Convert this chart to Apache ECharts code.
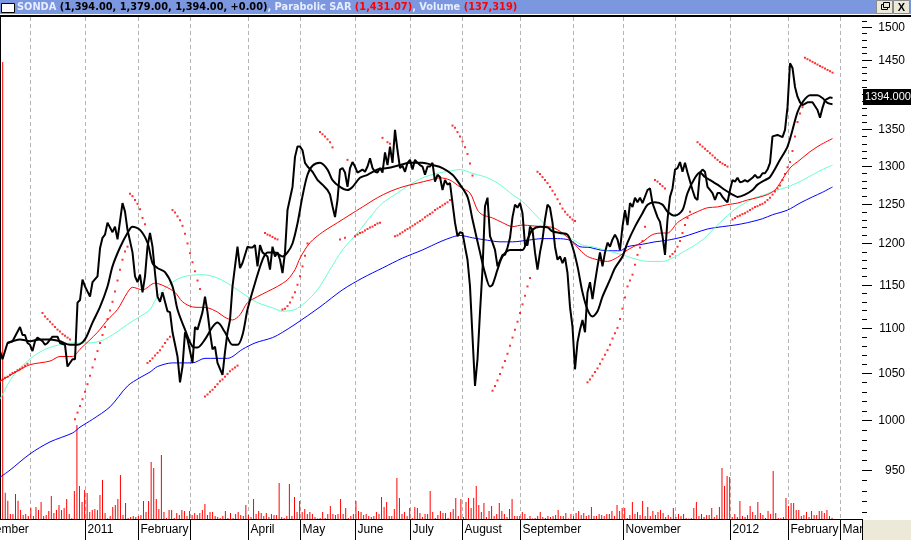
<!DOCTYPE html>
<html><head><meta charset="utf-8">
<script src="https://cdn.jsdelivr.net/npm/echarts@6/dist/echarts.min.js"></script>
<style>html,body{margin:0;padding:0;background:#fff;overflow:hidden}#c{width:911px;height:540px}</style>
</head><body><div id="c"></div>
<script>
// ---- data (x = trading-day position, y = price) ----
const price = [[0,1074],[1,1065],[3,1083],[5,1085],[8,1101],[9,1092],[10,1092],[11,1083],[12,1081],[13,1074],[14,1085],[15,1089],[17,1085],[18,1081],[19,1083],[21,1090],[23,1090],[24,1083],[26,1081],[27,1057],[29,1065],[30,1065],[31,1129],[32,1132],[33,1156],[34,1148],[36,1136],[37,1153],[39,1160],[40,1194],[41,1207],[42,1211],[43,1226],[45,1214],[46,1221],[47,1205],[49,1251],[50,1240],[51,1217],[53,1189],[54,1160],[55,1153],[56,1162],[57,1141],[58,1160],[59,1196],[60,1213],[61,1196],[62,1164],[63,1136],[64,1130],[65,1141],[67,1119],[68,1118],[69,1095],[71,1068],[72,1040],[73,1057],[74,1095],[75,1087],[77,1061],[78,1101],[79,1098],[81,1118],[82,1136],[83,1118],[84,1095],[85,1076],[86,1079],[87,1061],[89,1048],[90,1073],[91,1095],[92,1109],[93,1148],[95,1196],[96,1170],[97,1176],[99,1196],[100,1195],[101,1195],[102,1198],[103,1172],[104,1198],[105,1189],[107,1184],[108,1168],[109,1196],[110,1184],[111,1189],[112,1180],[113,1164],[114,1189],[115,1242],[117,1272],[118,1312],[119,1326],[120,1326],[121,1321],[122,1304],[123,1299],[125,1292],[127,1281],[129,1275],[131,1268],[132,1262],[133,1247],[134,1233],[135,1255],[136,1295],[137,1297],[138,1291],[139,1272],[140,1297],[141,1305],[142,1299],[143,1291],[145,1295],[146,1292],[147,1299],[148,1310],[149,1297],[150,1292],[151,1291],[152,1297],[153,1291],[154,1318],[155,1301],[156,1326],[157,1304],[158,1349],[159,1321],[160,1297],[161,1300],[162,1292],[163,1304],[164,1308],[165,1295],[166,1308],[167,1304],[168,1301],[169,1299],[170,1288],[171,1299],[172,1299],[173,1304],[174,1279],[175,1288],[176,1285],[177,1268],[178,1281],[179,1275],[180,1277],[181,1251],[182,1226],[183,1209],[184,1214],[185,1213],[186,1196],[187,1180],[188,1148],[189,1090],[190,1036],[191,1065],[192,1118],[193,1168],[194,1247],[195,1258],[196,1209],[197,1201],[198,1192],[199,1172],[201,1186],[202,1186],[203,1195],[204,1207],[205,1233],[206,1249],[207,1245],[208,1251],[209,1238],[210,1198],[211,1198],[212,1221],[213,1217],[214,1189],[215,1168],[216,1189],[217,1205],[218,1230],[219,1249],[220,1245],[221,1226],[222,1196],[223,1180],[224,1184],[225,1176],[226,1183],[227,1164],[228,1124],[229,1101],[230,1054],[231,1084],[232,1098],[233,1109],[234,1095],[235,1141],[236,1153],[237,1133],[238,1153],[239,1172],[240,1189],[241,1172],[242,1189],[243,1201],[244,1196],[245,1205],[246,1211],[247,1205],[248,1192],[249,1221],[250,1242],[251,1223],[252,1251],[253,1246],[254,1258],[255,1252],[256,1258],[257,1251],[259,1268],[260,1270],[261,1251],[262,1242],[263,1233],[264,1227],[265,1209],[266,1186],[267,1230],[268,1259],[269,1270],[270,1295],[271,1297],[272,1305],[273,1292],[274,1304],[275,1291],[277,1268],[278,1258],[279,1255],[280,1291],[281,1295],[282,1292],[283,1272],[284,1268],[285,1264],[286,1255],[287,1264],[288,1264],[289,1259],[290,1255],[291,1252],[292,1268],[293,1281],[294,1279],[295,1284],[296,1278],[297,1279],[298,1281],[299,1279],[301,1284],[302,1288],[303,1284],[304,1285],[305,1290],[306,1290],[307,1295],[308,1304],[309,1340],[311,1342],[313,1339],[314,1349],[315,1381],[316,1445],[317,1438],[318,1410],[319,1396],[320,1388],[321,1384],[323,1388],[325,1388],[327,1377],[328,1366],[329,1380],[330,1391],[332,1395],[333,1394]];

const maShort = [[3,1083],[8,1087],[12,1085],[16,1087],[20,1087],[24,1085],[28,1081],[31,1081],[34,1087],[37,1106],[40,1124],[43,1148],[45,1172],[48,1195],[51,1213],[53,1221],[56,1217],[59,1201],[61,1176],[63,1170],[66,1165],[69,1148],[71,1121],[74,1098],[77,1079],[79,1078],[82,1087],[85,1101],[87,1106],[90,1095],[93,1081],[95,1081],[97,1092],[99,1121],[102,1152],[105,1180],[107,1189],[110,1189],[113,1184],[115,1189],[117,1200],[119,1225],[121,1260],[123,1288],[125,1300],[128,1304],[131,1295],[133,1281],[136,1272],[139,1268],[141,1272],[144,1284],[147,1288],[151,1295],[155,1297],[160,1301],[164,1304],[169,1304],[173,1301],[177,1297],[181,1288],[184,1275],[187,1259],[189,1230],[192,1189],[194,1164],[196,1148],[197,1150],[199,1168],[201,1184],[204,1192],[207,1192],[209,1192],[211,1205],[213,1217],[216,1221],[219,1220],[221,1215],[224,1213],[227,1211],[229,1196],[231,1172],[233,1141],[235,1121],[237,1113],[239,1119],[241,1136],[244,1156],[246,1170],[249,1184],[251,1201],[254,1221],[257,1238],[259,1249],[262,1252],[265,1249],[267,1240],[270,1235],[273,1242],[275,1264],[278,1284],[280,1291],[282,1285],[285,1279],[287,1275],[290,1268],[293,1262],[295,1259],[298,1262],[301,1268],[303,1275],[306,1281],[308,1285],[312,1308],[315,1326],[317,1349],[319,1374],[321,1388],[324,1398],[327,1398],[329,1394],[331,1387],[333,1385]];

const maRed = [[0,1041],[7,1052],[12,1059],[20,1063],[24,1068],[29,1068],[32,1076],[39,1095],[43,1109],[47,1121],[51,1141],[53,1147],[57,1144],[62,1152],[66,1148],[70,1141],[73,1130],[77,1124],[83,1123],[87,1118],[90,1112],[93,1109],[96,1115],[99,1129],[103,1136],[107,1142],[111,1148],[115,1156],[118,1168],[120,1182],[124,1201],[129,1214],[135,1226],[140,1236],[145,1246],[151,1258],[156,1266],[161,1272],[167,1277],[172,1281],[176,1284],[180,1281],[184,1272],[188,1264],[191,1242],[193,1236],[197,1232],[201,1226],[205,1221],[209,1223],[213,1222],[217,1221],[221,1220],[225,1213],[229,1202],[232,1192],[235,1184],[239,1180],[243,1178],[247,1183],[251,1192],[257,1202],[261,1211],[265,1213],[267,1213],[271,1226],[275,1234],[279,1240],[283,1245],[287,1246],[291,1249],[295,1251],[299,1255],[303,1258],[307,1262],[310,1268],[312,1277],[316,1297],[320,1308],[324,1319],[328,1328],[333,1337]];

const maCyan = [[0,1022],[5,1046],[11,1063],[16,1073],[21,1079],[29,1083],[35,1083],[40,1085],[45,1092],[51,1104],[56,1113],[60,1121],[63,1136],[69,1153],[74,1160],[81,1162],[87,1158],[93,1148],[98,1138],[103,1129],[109,1123],[113,1119],[118,1121],[122,1129],[127,1144],[132,1168],[137,1192],[143,1213],[148,1233],[153,1251],[159,1264],[164,1275],[169,1284],[175,1290],[180,1293],[184,1295],[189,1290],[195,1284],[200,1275],[205,1262],[209,1253],[213,1240],[217,1227],[221,1217],[225,1211],[229,1205],[233,1198],[237,1196],[243,1191],[248,1187],[254,1181],[259,1178],[265,1178],[269,1182],[273,1189],[278,1198],[282,1207],[286,1220],[290,1232],[294,1243],[298,1251],[302,1258],[306,1262],[309,1266],[315,1272],[320,1279],[325,1288],[329,1295],[333,1301]];

const maBlue = [[0,943],[4,950],[12,966],[20,978],[29,987],[32,993],[37,1001],[44,1014],[51,1036],[56,1045],[60,1051],[63,1057],[69,1061],[77,1061],[82,1066],[91,1066],[97,1076],[102,1083],[109,1089],[113,1095],[118,1104],[128,1124],[137,1144],[145,1158],[153,1170],[161,1182],[169,1192],[176,1202],[181,1208],[184,1210],[189,1207],[195,1204],[200,1202],[205,1202],[211,1204],[217,1206],[223,1206],[228,1204],[232,1196],[236,1195],[240,1192],[244,1191],[248,1191],[251,1196],[257,1199],[262,1202],[267,1204],[273,1208],[278,1213],[283,1218],[289,1221],[294,1223],[299,1226],[305,1231],[309,1236],[315,1242],[320,1251],[325,1259],[329,1265],[333,1272]];

const sar = [[0,1041],[1,1043],[2,1045],[3,1046],[4,1048],[5,1050],[6,1051],[7,1053],[8,1054],[9,1056],[10,1058],[11,1060],
[17,1117],[18,1113],[19,1110],[20,1107],[21,1104],[22,1101],[23,1098],[24,1096],[25,1093],[26,1091],[27,1089],[28,1087],
[30,1001],[31,1008],[32,1015],[33,1022],[34,1030],[35,1038],[36,1047],[37,1056],[38,1065],[39,1074],[40,1083],[41,1092],[42,1101],[43,1110],[44,1120],[45,1130],[46,1142],[47,1155],[48,1168],[49,1180],[50,1190],[51,1196],
[52,1263],[53,1260],[54,1255],[55,1250],[56,1243],[57,1232],[58,1224],
[59,1061],[60,1063],[61,1066],[62,1069],[63,1072],[64,1075],[65,1079],[66,1083],[67,1087],[68,1090],
[69,1242],[70,1239],[71,1234],[72,1229],[73,1222],[74,1212],[75,1200],[76,1188],[77,1177],[78,1166],[79,1155],[80,1145],
[82,1025],[83,1027],[84,1030],[85,1032],[86,1035],[87,1038],[88,1041],[89,1043],[90,1046],[91,1049],[92,1052],[93,1054],[94,1056],[95,1058],
[106,1213],[107,1211],[108,1210],[109,1208],[110,1206],[111,1205],
[113,1121],[114,1122],[115,1125],[116,1129],[117,1135],[118,1141],[119,1150],[120,1160],[121,1172],[122,1185],[123,1200],
[128,1346],[129,1343],[130,1340],[131,1336],[132,1332],[133,1325],
[136,1205],[138,1207],[139,1308],
[142,1209],[143,1211],[144,1213],[145,1214],[146,1216],[147,1218],[148,1220],[149,1221],[150,1223],[151,1225],[152,1226],
[153,1338],[155,1332],[156,1330],
[158,1209],[159,1210],[160,1212],[161,1214],[162,1216],[163,1218],[164,1220],[165,1222],[166,1224],[167,1226],[168,1228],[169,1230],[170,1233],[171,1235],[172,1237],[173,1239],[174,1242],[175,1244],[176,1246],[177,1248],[178,1250],[179,1252],[180,1255],
[181,1355],[182,1352],[183,1346],[184,1340],[185,1333],[186,1325],[187,1316],[188,1303],[189,1287],
[197,1031],[198,1036],[199,1042],[200,1049],[201,1056],[202,1063],[203,1071],[204,1080],[205,1089],[206,1098],[207,1107],[208,1117],[209,1127],[210,1137],[211,1148],[212,1158],
[215,1292],[216,1289],[217,1285],[218,1281],[219,1277],[220,1272],[221,1267],[222,1262],[223,1256],[224,1250],[225,1244],[226,1240],[227,1236],[228,1233],[229,1230],[230,1228],
[235,1040],[236,1043],[237,1047],[238,1051],[239,1055],[240,1060],[241,1065],[242,1070],[243,1075],[244,1081],[245,1088],[246,1094],[247,1100],[248,1110],[249,1122],[250,1135],[251,1148],[252,1155],[253,1162],[254,1174],[255,1186],[256,1195],[257,1203],[258,1221],
[262,1281],[263,1279],[264,1276],[265,1273],[266,1270],
[268,1184],[269,1187],[270,1190],[271,1196],[272,1203],[273,1213],[274,1223],[275,1232],[276,1240],
[279,1332],[280,1329],[281,1326],[282,1323],[283,1320],[284,1317],[285,1314],[286,1311],[287,1308],[288,1305],[289,1303],[290,1301],[291,1299],
[293,1230],[294,1232],[295,1234],[296,1235],[297,1237],[298,1238],[299,1240],[300,1242],[301,1244],[302,1246],[303,1247],[304,1249],[305,1250],[306,1252],[307,1255],[308,1258],[309,1262],[310,1266],[311,1270],[312,1274],[313,1281],[314,1289],[315,1298],[316,1305],[317,1320],[318,1340],[319,1360],[320,1372],[321,1381],
[322,1453],[323,1451],[324,1449],[325,1447],[326,1445],[327,1443],[328,1441],[329,1439],[330,1437],[331,1435],[332,1433],[333,1431]];

// daily volume, thousands of shares (one bar per trading day)
const volume = [45700,2630,1830,500,500,2500,1830,900,400,500,
300,1100,300,1200,900,1700,300,400,800,2300,
600,900,1400,900,1100,2000,500,70,2800,9400,
3300,1700,2900,2600,700,900,1000,900,2400,3900,
600,70,300,1200,1400,2000,4400,400,1600,100,
200,300,200,300,400,1800,700,1800,5700,5100,
2000,1000,6400,700,100,900,900,100,600,400,
900,800,300,800,400,600,400,600,900,1500,
400,700,700,300,200,100,300,800,100,600,
100,500,700,400,300,1400,400,200,2000,500,
800,600,300,600,200,500,400,400,3600,200,
100,300,3500,
300,2200,700,1800,700,1000,500,700,500,200,50,
100,700,100,500,1300,500,400,500,2000,500,
1100,100,300,500,1800,800,700,400,500,300,
200,300,700,500,2200,1200,1700,300,300,1000,
4100,2100,500,700,300,1100,100,1200,1100,600,
200,500,500,2800,700,100,400,800,600,600,
100,700,1000,2100,300,2000,200,1700,2100,1100,
2100,3300,1400,700,1600,200,800,1300,300,500,
1600,800,500,200,1000,2000,300,300,300,700,
500,50,300,50,100,300,700,200,100,300,
200,300,400,900,300,300,600,50,
500,300,600,800,400,600,300,400,1200,300,
300,500,400,300,500,500,800,300,1400,800,
1100,1100,100,400,1700,500,700,400,1800,300,
1200,300,800,400,700,900,600,200,400,200,
1100,200,500,300,500,100,50,100,1100,1700,300,
500,200,400,400,1100,200,400,1200,5100,3300,
4300,4200,200,500,200,1800,300,200,400,1300,
700,400,1700,600,400,100,800,500,4800,600,
100,100,200,2100,1300,1600,1600,900,900,300,
400,700,200,800,400,400,800,800,600,900,
300,137];

// month grid and labels (x positions in same day units as price)
const gridDays = [12,34,55,76,99,120,142,164,185,208,229,249,270,292,315,336];
const labelDays = [-11.5,34,55,76,99,120,142,164,185,208,249,292,315,336];
const labelTexts = ['November','2011','February','','April','May','June','July','August','September','November','2012','February','Mar'];
const yTickLabels = [950,1000,1050,1100,1150,1200,1250,1300,1350,1400,1450,1500];
const yMinorStep = 10, yTickFrom = 910, yTickTo = 1510;

const headerName = 'SONDA';
const headerQuote = '(1,394.00, 1,379.00, 1,394.00, +0.00)';
const headerSar = '(1,431.07)';
const headerVol = '(137,319)';
const lastClose = 1394;

const FONT = '"Liberation Sans", Arial, sans-serif';
const yTicks = [];
for (let v = yTickFrom; v <= yTickTo; v += yMinorStep) yTicks.push(v);

const chart = echarts.init(document.getElementById('c'), null, {renderer:'canvas'});

function gridLineItem(params, api){
  const cs = params.coordSys;
  const x = Math.round(api.coord([api.value(0), 1200])[0]) + 0.5;
  return {type:'line', silent:true, shape:{x1:x,y1:cs.y,x2:x,y2:cs.y+cs.height},
    style:{stroke:'#b4b4b4', lineWidth:1, lineDash:[4,3]}};
}
function monthLabelItem(params, api){
  const cs = params.coordSys;
  const x = Math.round(api.coord([api.value(0), 1200])[0]) + 0.5;
  const yb = cs.y + cs.height;
  return {type:'group', silent:true, children:[
    {type:'line', shape:{x1:x,y1:yb,x2:x,y2:540}, style:{stroke:'#000', lineWidth:1}},
    {type:'text', x:x+2, y:yb+11, style:{text:labelTexts[params.dataIndex], fill:'#000',
      font:'12px '+FONT, align:'left', textAlign:'left', verticalAlign:'middle', textVerticalAlign:'middle'}}
  ]};
}
function yTickItem(params, api){
  const cs = params.coordSys;
  const v = api.value(1);
  const y = Math.round(api.coord([0, v])[1]) + 0.5;
  const x0 = cs.x + cs.width;
  const major = yTickLabels.indexOf(v) >= 0;
  const ch = [{type:'line', shape:{x1:x0,y1:y,x2:x0+(major?10:5),y2:y}, style:{stroke:'#000', lineWidth:1}}];
  if (major) ch.push({type:'text', x:905, y:y, style:{text:String(v), fill:'#000', font:'12px '+FONT,
    align:'right', textAlign:'right', verticalAlign:'middle', textVerticalAlign:'middle'}});
  return {type:'group', silent:true, children:ch};
}
function lastPriceItem(params, api){
  const cs = params.coordSys;
  const y = api.coord([api.value(0), api.value(1)])[1];
  const x0 = cs.x + cs.width;
  return {type:'group', silent:true, children:[
    {type:'rect', shape:{x:x0+1, y:Math.round(y)-9, width:50, height:16}, style:{fill:'#000'}},
    {type:'text', x:x0+3, y:Math.round(y)-1, style:{text:api.value(1).toFixed(3), fill:'#fff', font:'11px '+FONT,
      align:'left', textAlign:'left', verticalAlign:'middle', textVerticalAlign:'middle'}}
  ]};
}

const option = {
  animation:false,
  backgroundColor:'#ffffff',
  grid:{left:0, right:49, top:17, bottom:21},
  xAxis:[
    {type:'value', min:0, max:344.8, axisLine:{show:true, onZero:false, lineStyle:{color:'#000', width:1}},
      axisTick:{show:false}, axisLabel:{show:false}, splitLine:{show:false}},
    {type:'value', min:-1.05, max:335.7, show:false}
  ],
  yAxis:[
    {type:'log', logBase:10, min:903.3, max:1515.5, position:'right',
      axisLine:{show:true, lineStyle:{color:'#000', width:1}}, axisTick:{show:false},
      axisLabel:{show:false}, splitLine:{show:false}, minorTick:{show:false}},
    {type:'value', min:0, max:50200, show:false}
  ],
  graphic:[
    {type:'rect', silent:true, shape:{x:0,y:0,width:911,height:14}, style:{fill:'#7B97DF'}},
    {type:'rect', silent:true, shape:{x:0,y:15,width:911,height:2}, style:{fill:'#000'}},
    {type:'rect', silent:true, shape:{x:1.5,y:3.5,width:13,height:9}, style:{fill:'#fff', stroke:'#000', lineWidth:1}},
    {type:'text', silent:true, x:17, y:7.5, style:{
      text:'{n|'+headerName+' }{v|'+headerQuote+'}{n|, Parabolic SAR }{r|'+headerSar+'}{n|, Volume }{r|'+headerVol+'}',
      verticalAlign:'middle', textVerticalAlign:'middle',
      rich:{
        n:{fill:'#E8EEFF', color:'#E8EEFF', fontFamily:'DejaVu Sans', fontWeight:'bold', fontSize:9.8},
        v:{fill:'#000', color:'#000', fontFamily:'DejaVu Sans', fontWeight:'bold', fontSize:9.8},
        r:{fill:'#FF0000', color:'#FF0000', fontFamily:'DejaVu Sans', fontWeight:'bold', fontSize:9.8}
      }}},
    {type:'rect', silent:true, shape:{x:876.5,y:0.5,width:16,height:13}, style:{fill:'#ECE9D8', stroke:'#8a8a8a', lineWidth:1}},
    {type:'rect', silent:true, shape:{x:881.5,y:4.5,width:6,height:5}, style:{fill:'none', stroke:'#000', lineWidth:1}},
    {type:'rect', silent:true, shape:{x:883.5,y:2.5,width:6,height:5}, style:{fill:'#ECE9D8', stroke:'#000', lineWidth:1}},
    {type:'rect', silent:true, shape:{x:893.5,y:0.5,width:16,height:13}, style:{fill:'#ECE9D8', stroke:'#8a8a8a', lineWidth:1}},
    {type:'text', silent:true, x:901.5, y:7.5, style:{text:'X', fill:'#000', font:'bold 11px '+FONT, align:'center', verticalAlign:'middle'}},
    {type:'rect', silent:true, shape:{x:863,y:520,width:48,height:20}, style:{fill:'#ECE9D8'}},
    {type:'line', silent:true, shape:{x1:862.5,y1:519,x2:862.5,y2:540}, style:{stroke:'#000', lineWidth:1}}
  ],
  series:[
    {type:'custom', name:'grid', xAxisIndex:0, yAxisIndex:0, z:1, silent:true,
      data:gridDays.map(d=>[d,1200]), renderItem:gridLineItem},
    {type:'bar', name:'Volume', xAxisIndex:1, yAxisIndex:1, z:2, barWidth:1, silent:true,
      itemStyle:{color:'#ff0000'}, data:volume.map((v,i)=>[i,v])},
    {type:'line', name:'MA blue', xAxisIndex:0, yAxisIndex:0, z:3, showSymbol:false, smooth:0.3, silent:true,
      lineStyle:{color:'#0000ff', width:1}, data:maBlue},
    {type:'line', name:'MA cyan', xAxisIndex:0, yAxisIndex:0, z:3, showSymbol:false, smooth:0.3, silent:true,
      lineStyle:{color:'#66FFCC', width:1}, data:maCyan},
    {type:'line', name:'MA red', xAxisIndex:0, yAxisIndex:0, z:3, showSymbol:false, smooth:0.3, silent:true,
      lineStyle:{color:'#ff0000', width:1}, data:maRed},
    {type:'scatter', name:'Parabolic SAR', xAxisIndex:0, yAxisIndex:0, z:4, symbol:'rect', symbolSize:2, silent:true,
      itemStyle:{color:'#ff0000'}, data:sar},
    {type:'line', name:'MA short', xAxisIndex:0, yAxisIndex:0, z:5, showSymbol:false, smooth:0.3, silent:true,
      lineStyle:{color:'#000', width:2}, data:maShort},
    {type:'line', name:'SONDA', xAxisIndex:0, yAxisIndex:0, z:6, showSymbol:false, silent:true,
      lineStyle:{color:'#000', width:2}, data:price},
    {type:'custom', name:'monthLabels', xAxisIndex:0, yAxisIndex:0, z:7, silent:true, clip:false,
      data:labelDays.map(d=>[d,1200]), renderItem:monthLabelItem},
    {type:'custom', name:'yTicks', xAxisIndex:0, yAxisIndex:0, z:7, silent:true, clip:false,
      data:yTicks.map(v=>[0,v]), renderItem:yTickItem},
    {type:'custom', name:'lastPrice', xAxisIndex:0, yAxisIndex:0, z:8, silent:true, clip:false,
      data:[[price[price.length-1][0], lastClose]], renderItem:lastPriceItem}
  ]
};
chart.setOption(option);
</script>
</body></html>
